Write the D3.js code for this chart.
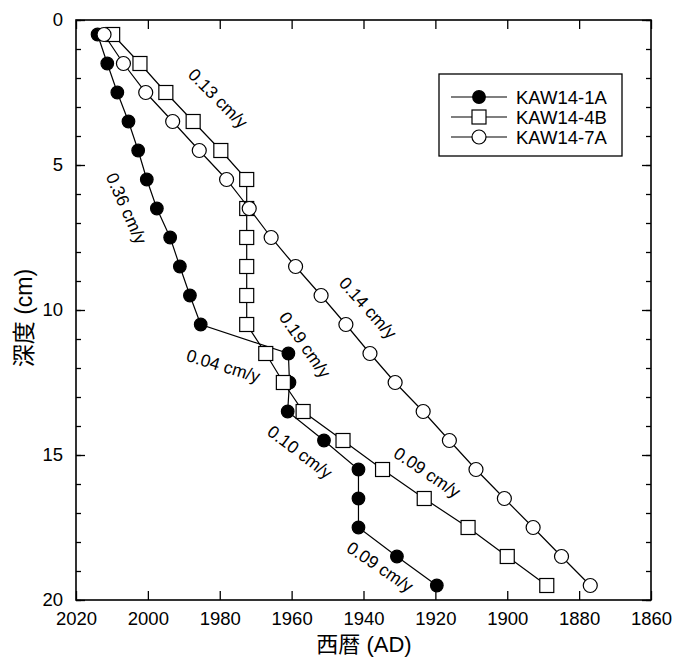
<!DOCTYPE html>
<html>
<head>
<meta charset="utf-8">
<script src="https://cdn.jsdelivr.net/npm/d3@7"></script>
<style>
  html, body { margin: 0; padding: 0; background: #fff; }
  svg { display: block; font-family: "Liberation Sans", Arial, "Noto Sans CJK JP", sans-serif; }
</style>
</head>
<body>
<div id="chart"></div>
<script>
// depths (cm) shared by all cores
const depths = [0.5, 1.5, 2.5, 3.5, 4.5, 5.5, 6.5, 7.5, 8.5, 9.5, 10.5, 11.5, 12.5, 13.5, 14.5, 15.5, 16.5, 17.5, 18.5, 19.5];

// ages (AD)
const yearsKAW1A = [2014, 2011.3, 2008.5, 2005.4, 2002.7, 2000.3, 1997.5, 1993.8, 1991.1, 1988.3, 1985.3, 1960.9, 1960.6, 1961.1, 1951, 1941.4, 1941.4, 1941.4, 1930.7, 1919.6];
const yearsKAW4B = [2009.8, 2002.2, 1995, 1987.4, 1979.7, 1972.5, 1972.5, 1972.5, 1972.5, 1972.5, 1972.5, 1967.2, 1962.3, 1956.8, 1945.7, 1934.7, 1923.1, 1910.9, 1900, 1889];
const yearsKAW7A = [2012.2, 2006.8, 2000.6, 1993.1, 1985.7, 1978.1, 1971.8, 1965.7, 1958.9, 1951.8, 1944.9, 1938.2, 1931.2, 1923.4, 1916.1, 1908.7, 1900.8, 1892.8, 1884.9, 1876.9];

const seriesNames = ["KAW14-1A", "KAW14-4B", "KAW14-7A"];
const xTicks = [2020, 2000, 1980, 1960, 1940, 1920, 1900, 1880, 1860];
const yTicks = [0, 5, 10, 15, 20];

// sedimentation-rate annotations: [text, year, depth, angle]
const rateLabels = [
  ["0.13 cm/y", 1980.5, 2.7, 45],
  ["0.36 cm/y", 2006, 6.5, 66],
  ["0.14 cm/y", 1938.8, 9.93, 48],
  ["0.19 cm/y", 1956.3, 11.2, 55],
  ["0.04 cm/y", 1979, 11.93, 17],
  ["0.10 cm/y", 1957.7, 14.9, 37],
  ["0.09 cm/y", 1922.3, 15.6, 34],
  ["0.09 cm/y", 1935.4, 18.86, 34]
];

const W = 676, H = 659;
const margin = { top: 20, right: 25, bottom: 59, left: 76 };

const svg = d3.select("#chart").append("svg")
  .attr("width", W).attr("height", H);

const x = d3.scaleLinear().domain([2020, 1860]).range([margin.left, W - margin.right]);
const y = d3.scaleLinear().domain([0, 20]).range([margin.top, H - margin.bottom]);

const minorY = d3.range(0, 21, 1);

// axes: ticks pointing inward
svg.append("g").attr("transform", `translate(0,${y(20)})`)
  .call(d3.axisBottom(x).tickValues(xTicks).tickSize(-9).tickPadding(12).tickFormat(d3.format("d")))
  .call(g => g.select(".domain").remove());
svg.append("g").attr("transform", `translate(0,${y(0)})`)
  .call(d3.axisTop(x).tickValues(xTicks).tickSize(-9).tickFormat(""))
  .call(g => g.select(".domain").remove());
svg.append("g").attr("transform", `translate(${x(2020)},0)`)
  .call(d3.axisLeft(y).tickValues(minorY).tickSize(-5).tickFormat(""))
  .call(g => g.select(".domain").remove());
svg.append("g").attr("transform", `translate(${x(2020)},0)`)
  .call(d3.axisLeft(y).tickValues(yTicks).tickSize(-9).tickPadding(13))
  .call(g => g.select(".domain").remove());
svg.append("g").attr("transform", `translate(${x(1860)},0)`)
  .call(d3.axisRight(y).tickValues(minorY).tickSize(-5).tickFormat(""))
  .call(g => g.select(".domain").remove());
svg.append("g").attr("transform", `translate(${x(1860)},0)`)
  .call(d3.axisRight(y).tickValues(yTicks).tickSize(-9).tickFormat(""))
  .call(g => g.select(".domain").remove());

svg.selectAll(".tick line").attr("stroke", "#000").attr("stroke-width", 1.3);
svg.selectAll(".tick text").attr("font-size", 18.5).attr("fill", "#000")
  .attr("font-family", "Liberation Sans, Arial, sans-serif");

// frame
svg.append("rect")
  .attr("x", x(2020)).attr("y", y(0))
  .attr("width", x(1860) - x(2020)).attr("height", y(20) - y(0))
  .attr("fill", "none").attr("stroke", "#000").attr("stroke-width", 1.6);

// axis titles (Latin font first, CJK glyphs fall back to Noto Sans CJK JP)
svg.append("text")
  .attr("x", 364).attr("y", 652)
  .attr("text-anchor", "middle").attr("font-size", 22)
  .attr("font-family", "Liberation Sans, Noto Sans CJK JP, sans-serif")
  .text("西暦 (AD)");
svg.append("text")
  .attr("transform", `translate(32,318) rotate(-90)`)
  .attr("text-anchor", "middle").attr("font-size", 23)
  .attr("font-family", "Liberation Sans, Noto Sans CJK JP, sans-serif")
  .text("深度 (cm)");

// series
const series = [
  { name: seriesNames[0], years: yearsKAW1A, shape: "circle", fill: "#000" },
  { name: seriesNames[1], years: yearsKAW4B, shape: "square", fill: "#fff" },
  { name: seriesNames[2], years: yearsKAW7A, shape: "circle", fill: "#fff" }
];

const line = d3.line().x(d => x(d[0])).y(d => y(d[1]));

function drawMarker(g, shape, fill, cx, cy) {
  if (shape === "circle") {
    g.append("circle").attr("cx", cx).attr("cy", cy)
      .attr("r", fill === "#000" ? 6.3 : 7)
      .attr("fill", fill).attr("stroke", "#000").attr("stroke-width", 1.2);
  } else {
    g.append("rect").attr("x", cx - 7).attr("y", cy - 7)
      .attr("width", 14).attr("height", 14)
      .attr("fill", fill).attr("stroke", "#000").attr("stroke-width", 1.2);
  }
}

series.forEach(s => {
  const pts = s.years.map((yr, i) => [yr, depths[i]]);
  const g = svg.append("g");
  g.append("path").datum(pts)
    .attr("d", line).attr("fill", "none")
    .attr("stroke", "#000").attr("stroke-width", 1.2);
  pts.forEach(p => drawMarker(g, s.shape, s.fill, x(p[0]), y(p[1])));
});

// rate labels
rateLabels.forEach(([t, yr, dp, ang]) => {
  svg.append("text")
    .attr("transform", `translate(${x(yr)},${y(dp)}) rotate(${ang})`)
    .attr("text-anchor", "middle").attr("dominant-baseline", "central")
    .attr("font-size", 17.5).text(t);
});

// legend
const lg = svg.append("g");
lg.append("rect").attr("x", 439).attr("y", 74).attr("width", 183).attr("height", 82)
  .attr("fill", "#fff").attr("stroke", "#000").attr("stroke-width", 1.3);
series.forEach((s, i) => {
  const ly = 97 + i * 20;
  lg.append("line").attr("x1", 451).attr("x2", 507).attr("y1", ly).attr("y2", ly)
    .attr("stroke", "#000").attr("stroke-width", 1.2);
  drawMarker(lg, s.shape, s.fill, 479, ly);
  lg.append("text").attr("x", 516).attr("y", ly).attr("dominant-baseline", "central")
    .attr("font-size", 18.5).text(s.name);
});
</script>
</body>
</html>
